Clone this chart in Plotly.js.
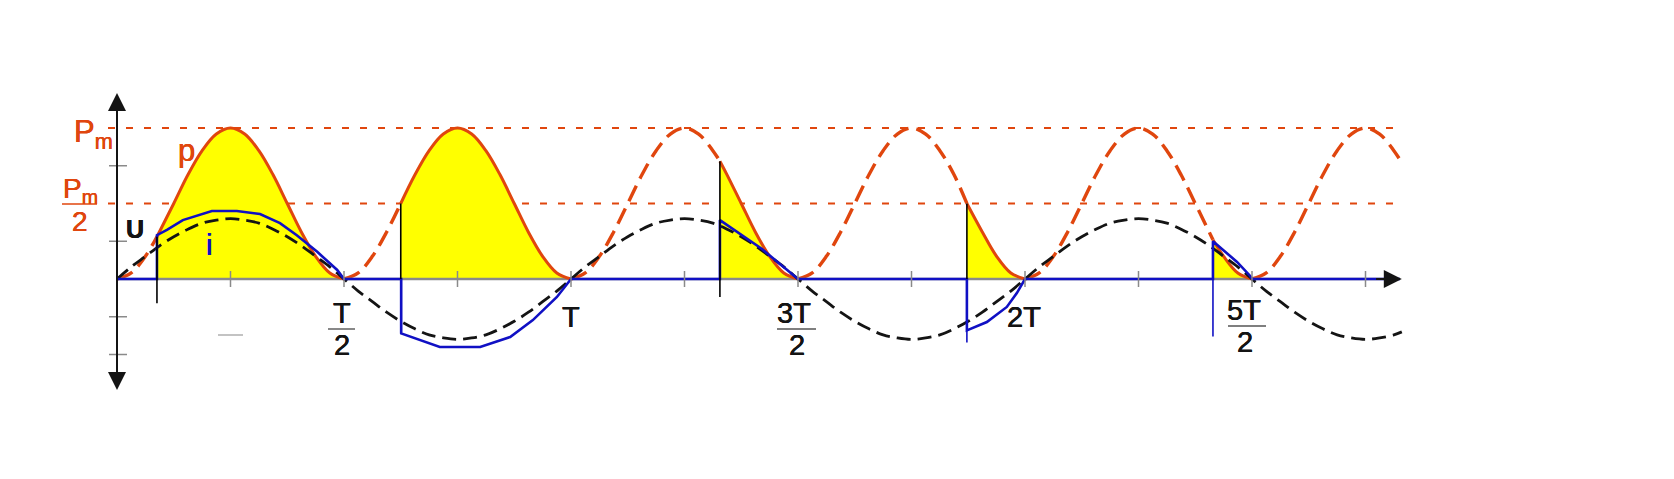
<!DOCTYPE html>
<html>
<head>
<meta charset="utf-8">
<script src="https://cdn.plot.ly/plotly-3.0.1.min.js"></script>
<style>html,body{margin:0;padding:0;background:#fff}#chart{width:1674px;height:479px}</style>
</head>
<body>
<div id="chart"></div>
<script>
// ---- data: time in periods T, values in units of Pm ----
const tGrid = [
  0,0.03125,0.0625,0.09375,0.125,0.15625,0.1875,0.21875,0.25,0.28125,0.3125,0.34375,0.375,0.40625,0.4375,0.46875,
  0.5,0.53125,0.5625,0.59375,0.625,0.65625,0.6875,0.71875,0.75,0.78125,0.8125,0.84375,0.875,0.90625,0.9375,0.96875,
  1,1.03125,1.0625,1.09375,1.125,1.15625,1.1875,1.21875,1.25,1.28125,1.3125,1.34375,1.375,1.40625,1.4375,1.46875,
  1.5,1.53125,1.5625,1.59375,1.625,1.65625,1.6875,1.71875,1.75,1.78125,1.8125,1.84375,1.875,1.90625,1.9375,1.96875,
  2,2.03125,2.0625,2.09375,2.125,2.15625,2.1875,2.21875,2.25,2.28125,2.3125,2.34375,2.375,2.40625,2.4375,2.46875,
  2.5,2.53125,2.5625,2.59375,2.625,2.65625,2.6875,2.71875,2.75,2.78125,2.8125,2.83];
const pVal = [
  0,0.04,0.15,0.31,0.5,0.69,0.85,0.96,1,0.96,0.85,0.69,0.5,0.31,0.15,0.04,
  0,0.04,0.15,0.31,0.5,0.69,0.85,0.96,1,0.96,0.85,0.69,0.5,0.31,0.15,0.04,
  0,0.04,0.15,0.31,0.5,0.69,0.85,0.96,1,0.96,0.85,0.69,0.5,0.31,0.15,0.04,
  0,0.04,0.15,0.31,0.5,0.69,0.85,0.96,1,0.96,0.85,0.69,0.5,0.31,0.15,0.04,
  0,0.04,0.15,0.31,0.5,0.69,0.85,0.96,1,0.96,0.85,0.69,0.5,0.31,0.15,0.04,
  0,0.04,0.15,0.31,0.5,0.69,0.85,0.96,1,0.96,0.85,0.77];
const uVal = [
  0,0.08,0.15,0.22,0.28,0.33,0.37,0.39,0.40,0.39,0.37,0.33,0.28,0.22,0.15,0.08,
  0,-0.08,-0.15,-0.22,-0.28,-0.33,-0.37,-0.39,-0.40,-0.39,-0.37,-0.33,-0.28,-0.22,-0.15,-0.08,
  0,0.08,0.15,0.22,0.28,0.33,0.37,0.39,0.40,0.39,0.37,0.33,0.28,0.22,0.15,0.08,
  0,-0.08,-0.15,-0.22,-0.28,-0.33,-0.37,-0.39,-0.40,-0.39,-0.37,-0.33,-0.28,-0.22,-0.15,-0.08,
  0,0.08,0.15,0.22,0.28,0.33,0.37,0.39,0.40,0.39,0.37,0.33,0.28,0.22,0.15,0.08,
  0,-0.08,-0.15,-0.22,-0.28,-0.33,-0.37,-0.39,-0.40,-0.39,-0.37,-0.35];

const fireT = [0.088, 0.625, 1.328, 1.872, 2.414];
const fireP = [0.28, 0.5, 0.78, 0.5, 0.26];
const endT  = [0.5, 1.0, 1.5, 2.0, 2.5];
const blackMarkBot = [-0.16, 0, -0.12, 0, null];
const blueMarkTop  = [null, 0, null, 0, 0.25];
const blueMarkBot  = [null, -0.36, null, -0.42, -0.38];

const i1T = [0.088,0.110,0.145,0.209,0.264,0.315,0.359,0.396,0.441,0.485,0.5];
const i1V = [0.29,0.325,0.39,0.45,0.45,0.43,0.37,0.29,0.18,0.06,0];
const i2T = [0.626,0.711,0.8,0.866,0.916,0.969,1.0];
const i2V = [-0.36,-0.45,-0.45,-0.384,-0.272,-0.119,0];
const i3T = [1.328,1.42,1.5];
const i3V = [0.39,0.2,0];
const i4T = [1.872,1.916,1.96,1.982,2.0];
const i4V = [-0.34,-0.285,-0.185,-0.093,0];
const i5T = [2.414,2.467,2.496,2.5];
const i5V = [0.25,0.113,0.02,0];
const iEndT = 2.826;

const pmLevels = [1, 0.5];
const refEndT = 2.82;
const xTickT = [0.25,0.5,0.75,1,1.25,1.5,1.75,2,2.25,2.5,2.75];
const yTickV = [0.75,0.25,-0.25,-0.5];
const axisEndT = 2.83;
const yAxisTop = 1.232, yAxisBot = -0.748;

// ---- styling ----
const RED='#E0460E', BLUE='#1010C4', INK='#141414', GRAY='#8a8a8a', YEL='#FFFF00';
const FONT='Liberation Sans, Arial, sans-serif';
const heavy = c => `0.3px 0 0 ${c}, -0.3px 0 0 ${c}`;
// pixel helpers for label placement only
const X = px => (px-117)/454;
const Y = py => (279-py)/151;

// slice of p between t0 and t1 (grid points inside), with given end values
function pPiece(t0, v0, t1, v1){
  const xs=[t0], ys=[v0];
  tGrid.forEach((t,j)=>{ if(t>t0+0.008 && t<t1-0.008){xs.push(t); ys.push(pVal[j]);} });
  xs.push(t1); ys.push(v1);
  return [xs, ys];
}
function pAt(t){ const j=tGrid.findIndex(g=>Math.abs(g-t)<1e-9); return j>=0?pVal[j]:null; }

const traces = [];
pmLevels.forEach(v => traces.push({x:[X(108), refEndT], y:[v,v], mode:'lines',
  line:{color:RED,width:2,dash:'7px,11px'}, hoverinfo:'skip'}));
const solid=[];
for (let k=0;k<fireT.length;k++){
  const [xs,ys]=pPiece(fireT[k], fireP[k], endT[k], pAt(endT[k]));
  solid.push([xs,ys]);
  traces.push({x:xs, y:ys, mode:'lines', fill:'tozeroy', fillcolor:YEL,
    line:{color:YEL,width:0,shape:'spline'}, hoverinfo:'skip'});
}
const gapStart=[0].concat(endT), gapEnd=fireT.concat([tGrid[tGrid.length-1]]);
for (let k=0;k<gapStart.length;k++){
  const v1 = k<fireP.length ? fireP[k] : pVal[pVal.length-1];
  const [xs,ys]=pPiece(gapStart[k], pAt(gapStart[k]), gapEnd[k], v1);
  traces.push({x:xs, y:ys, mode:'lines', line:{color:RED,width:3.4,dash:'17px,8px',shape:'spline'}, hoverinfo:'skip'});
}
traces.push({x:[0, axisEndT-0.02], y:[0,0], mode:'lines', line:{color:GRAY,width:2.5}, hoverinfo:'skip'});
solid.forEach(([xs,ys])=>traces.push({x:xs, y:ys, mode:'lines', line:{color:RED,width:3,shape:'spline'}, hoverinfo:'skip'}));
traces.push({x:tGrid, y:uVal, mode:'lines', line:{color:INK,width:2.8,dash:'14px,7px',shape:'spline'}, hoverinfo:'skip'});
const segs=[[i1T,i1V],[i2T,i2V],[i3T,i3V],[i4T,i4V],[i5T,i5V]];
const ix=[0], iy=[0];
segs.forEach(([ts,vs])=>{ ix.push(ts[0]); iy.push(0); ts.forEach((t,j)=>{ix.push(t); iy.push(vs[j]);}); });
ix.push(iEndT); iy.push(0);
traces.push({x:ix, y:iy, mode:'lines', line:{color:BLUE,width:2.6}, hoverinfo:'skip'});
const bx=[], by=[], ux=[], uy=[];
fireT.forEach((t,k)=>{
  if(blackMarkBot[k]!==null){ bx.push(t,t,null); by.push(fireP[k],blackMarkBot[k],null); }
  if(blueMarkTop[k]!==null){ ux.push(t,t,null); uy.push(blueMarkTop[k],blueMarkBot[k],null); }
});
traces.push({x:bx, y:by, mode:'lines', line:{color:'#000',width:1.6}, hoverinfo:'skip'});
traces.push({x:ux, y:uy, mode:'lines', line:{color:BLUE,width:1.6}, hoverinfo:'skip'});
const tx=[], ty=[];
xTickT.forEach(t=>{tx.push(t,t,null); ty.push(Y(287),Y(271),null);});
traces.push({x:tx, y:ty, mode:'lines', line:{color:GRAY,width:1.5}, hoverinfo:'skip'});
const sx=[], sy=[];
yTickV.forEach(v=>{sx.push(X(109),X(127),null); sy.push(v,v,null);});
traces.push({x:sx, y:sy, mode:'lines', line:{color:GRAY,width:1.5}, hoverinfo:'skip'});

function txt(text,x,y,size,color,extra){
  return Object.assign({text:text, x:x, y:y, xref:'x', yref:'y', showarrow:false,
    xanchor:'center', yanchor:'middle', font:{family:FONT,size:size,color:color,shadow:heavy(color)}}, extra||{});
}
const annotations = [
  {x:0, y:yAxisTop, ax:0, ay:yAxisBot, axref:'x', ayref:'y', xref:'x', yref:'y', text:' ',
   showarrow:true, arrowhead:2, startarrowhead:2, arrowside:'end+start', arrowsize:1.8, startarrowsize:1.8,
   arrowwidth:2, arrowcolor:INK, standoff:0, startstandoff:0, font:{size:1}},
  {x:axisEndT, y:0, ax:axisEndT-0.06, ay:0, axref:'x', ayref:'y', xref:'x', yref:'y', text:' ',
   showarrow:true, arrowhead:2, arrowsize:1.8, arrowwidth:2, arrowcolor:INK, standoff:0, font:{size:1}},
  txt('P<sub>m</sub>', X(93), Y(134), 31, RED),
  txt('P<sub>m</sub>', X(80), Y(190), 28, RED),
  txt('2', X(80), Y(221), 28, RED),
  txt('p', X(186), Y(150), 31, RED),
  txt('<b>U</b>', X(135), Y(229), 25, INK),
  txt('i', X(209), Y(244), 30, BLUE),
  txt('T', X(342), Y(312.5), 29, INK),
  txt('2', X(342), Y(345), 29, INK),
  txt('T', X(571), Y(317), 29, INK),
  txt('3T', X(794), Y(312.5), 29, INK),
  txt('2', X(797), Y(345), 29, INK),
  txt('2T', X(1024), Y(317), 29, INK),
  txt('5T', X(1244), Y(309.5), 29, INK),
  txt('2', X(1245), Y(342), 29, INK)
];
function bar(x0,x1,yy,color){
  return {type:'line', xref:'x', yref:'y', x0:X(x0), x1:X(x1), y0:Y(yy), y1:Y(yy), line:{color:color,width:1.4}};
}
const shapes = [
  bar(62,97,204,RED),
  bar(328,355,329,'#555'),
  bar(777,816,329,'#555'),
  bar(1228,1266,326,'#555'),
  bar(218,243,335,'#aaa')
];

const layout = {
  width:1674, height:479, margin:{l:0,r:0,t:0,b:0},
  paper_bgcolor:'#ffffff', plot_bgcolor:'#ffffff', showlegend:false,
  xaxis:{range:[X(0),X(1674)], visible:false, fixedrange:true},
  yaxis:{range:[Y(479),Y(0)], visible:false, fixedrange:true},
  annotations:annotations, shapes:shapes
};
Plotly.newPlot('chart', traces, layout, {staticPlot:true, displayModeBar:false});
</script>
</body>
</html>
